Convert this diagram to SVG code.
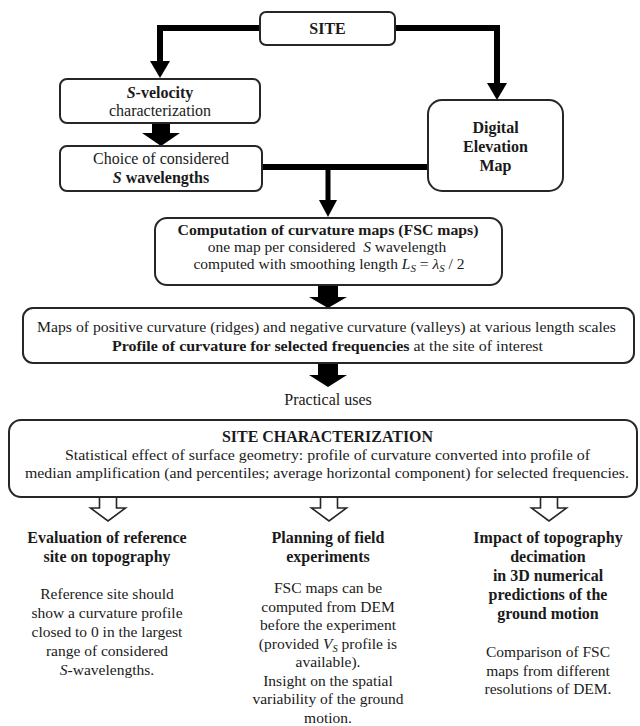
<svg xmlns="http://www.w3.org/2000/svg" width="640" height="726" viewBox="0 0 640 726" font-family="'Liberation Serif', 'Times New Roman', Times, 'DejaVu Serif', serif">
<style>
.box{fill:#fff;stroke:#262626;stroke-width:2}
.t{font-family:'Liberation Serif', 'Times New Roman', Times, 'DejaVu Serif', serif;fill:#1a1a1a;text-anchor:middle}
.b{font-weight:bold}
.i{font-style:italic}
.ln{fill:none;stroke:#000;stroke-width:6}
.ah{fill:#000}
.ho{fill:#fff;stroke:#262626;stroke-width:1.6;stroke-linejoin:miter}
.s15{font-size:15.5px}
.s16{font-size:16px}
</style>
<rect width="640" height="726" fill="#fff"/>

<g id="connectors">
  <path class="ln" d="M261,28 H160 V62"/>
  <polygon class="ah" points="150,61 170,61 160,78"/>
  <path class="ln" d="M394,28 H497 V84"/>
  <polygon class="ah" points="487,83 507,83 497,100"/>
  <path class="ln" d="M262,167 H428"/>
  <path class="ln" d="M328,167 V201" style="stroke-width:5"/>
  <polygon class="ah" points="319,200 337,200 328,217"/>
  <polygon class="ah" points="152,123 170,123 170,133 180,133 161,146 142,133 152,133"/>
  <polygon class="ah" points="318,285 338,285 338,297 347,297 328,308 309,297 318,297"/>
  <polygon class="ah" points="318,363 338,363 338,375 347,375 328,387 309,375 318,375"/>
  <path class="ho" d="M99.5,496 V508 H90.5 L108,521 L125.5,508 H116.5 V496"/>
  <path class="ho" d="M320.5,496 V508 H311.5 L329,521 L346.5,508 H337.5 V496"/>
  <path class="ho" d="M540.5,496 V508 H531.5 L549,521 L566.5,508 H557.5 V496"/>
</g>

<g id="site">
  <rect class="box" x="260" y="12" width="135" height="33" rx="6"/>
  <text class="t b s16" x="327.5" y="34">SITE</text>
</g>

<g id="svelocity">
  <rect class="box" x="60" y="79" width="200" height="44" rx="7"/>
  <text class="t s16" x="160" y="98"><tspan class="b i">S</tspan><tspan class="b">-velocity</tspan></text>
  <text class="t s16" x="160" y="116">characterization</text>
</g>

<g id="choice">
  <rect class="box" x="60" y="146" width="202" height="45" rx="7"/>
  <text class="t s16" x="161" y="164">Choice of considered</text>
  <text class="t s16 b" x="161" y="183"><tspan class="i">S</tspan> wavelengths</text>
</g>

<g id="dem">
  <rect class="box" x="428" y="100" width="135" height="91" rx="14"/>
  <text class="t b s16" x="495.5" y="133">Digital</text>
  <text class="t b s16" x="495.5" y="152">Elevation</text>
  <text class="t b s16" x="495.5" y="171">Map</text>
</g>

<g id="computation">
  <rect class="box" x="155" y="218" width="347" height="67" rx="12"/>
  <text class="t b s15" x="328" y="235" textLength="301" lengthAdjust="spacingAndGlyphs">Computation of curvature maps (FSC maps)</text>
  <text class="t s15" x="327" y="252" xml:space="preserve">one map per considered  <tspan class="i">S</tspan> wavelength</text>
  <text class="t s15" x="329" y="269">computed with smoothing length <tspan class="i">L</tspan><tspan class="i" font-size="11" dy="3">S</tspan><tspan dy="-3"> = </tspan><tspan class="i">λ</tspan><tspan class="i" font-size="11" dy="3">S</tspan><tspan dy="-3"> / 2</tspan></text>
</g>

<g id="maps">
  <rect class="box" x="23" y="308" width="611" height="55" rx="10"/>
  <text class="t s15" x="326.5" y="332" textLength="579" lengthAdjust="spacingAndGlyphs">Maps of positive curvature (ridges) and negative curvature (valleys) at various length scales</text>
  <text class="t s15" x="327.5" y="351" textLength="431" lengthAdjust="spacingAndGlyphs"><tspan class="b">Profile of curvature for selected frequencies</tspan> at the site of interest</text>
</g>

<g id="practical">
  <text class="t s16" x="328" y="405">Practical uses</text>
</g>

<g id="sitechar">
  <rect class="box" x="9" y="420" width="628" height="77" rx="12"/>
  <text class="t b s16" x="327.5" y="442" textLength="211" lengthAdjust="spacingAndGlyphs">SITE CHARACTERIZATION</text>
  <text class="t s15" x="327.5" y="460" textLength="525" lengthAdjust="spacingAndGlyphs">Statistical effect of surface geometry: profile of curvature converted into profile of</text>
  <text class="t s15" x="327" y="478" textLength="604" lengthAdjust="spacingAndGlyphs">median amplification (and percentiles; average horizontal component) for selected frequencies.</text>
</g>

<g id="evaluation">
  <text class="t b s16" x="107" y="543">Evaluation of reference</text>
  <text class="t b s16" x="107" y="562">site on topography</text>
  <text class="t s15" x="107" y="599">Reference site should</text>
  <text class="t s15" x="107" y="618">show a curvature profile</text>
  <text class="t s15" x="107" y="637">closed to 0 in the largest</text>
  <text class="t s15" x="107" y="656">range of considered</text>
  <text class="t s15" x="107" y="675"><tspan class="i">S</tspan>-wavelengths.</text>
</g>

<g id="planning">
  <text class="t b s16" x="328" y="543">Planning of field</text>
  <text class="t b s16" x="328" y="562">experiments</text>
  <text class="t s15" x="328" y="593">FSC maps can be</text>
  <text class="t s15" x="328" y="611.5">computed from DEM</text>
  <text class="t s15" x="328" y="630">before the experiment</text>
  <text class="t s15" x="328" y="648.5">(provided <tspan class="i">V</tspan><tspan class="i" font-size="10.5" dy="3">S</tspan><tspan dy="-3"> profile is</tspan></text>
  <text class="t s15" x="328" y="667">available).</text>
  <text class="t s15" x="328" y="685.5">Insight on the spatial</text>
  <text class="t s15" x="328" y="704">variability of the ground</text>
  <text class="t s15" x="328" y="722.5">motion.</text>
</g>

<g id="impact">
  <text class="t b s16" x="548" y="543">Impact of topography</text>
  <text class="t b s16" x="548" y="562">decimation</text>
  <text class="t b s16" x="548" y="581">in 3D numerical</text>
  <text class="t b s16" x="548" y="600">predictions of the</text>
  <text class="t b s16" x="548" y="619">ground motion</text>
  <text class="t s15" x="548" y="657">Comparison of FSC</text>
  <text class="t s15" x="548" y="675.5">maps from different</text>
  <text class="t s15" x="548" y="694">resolutions of DEM.</text>
</g>
</svg>
